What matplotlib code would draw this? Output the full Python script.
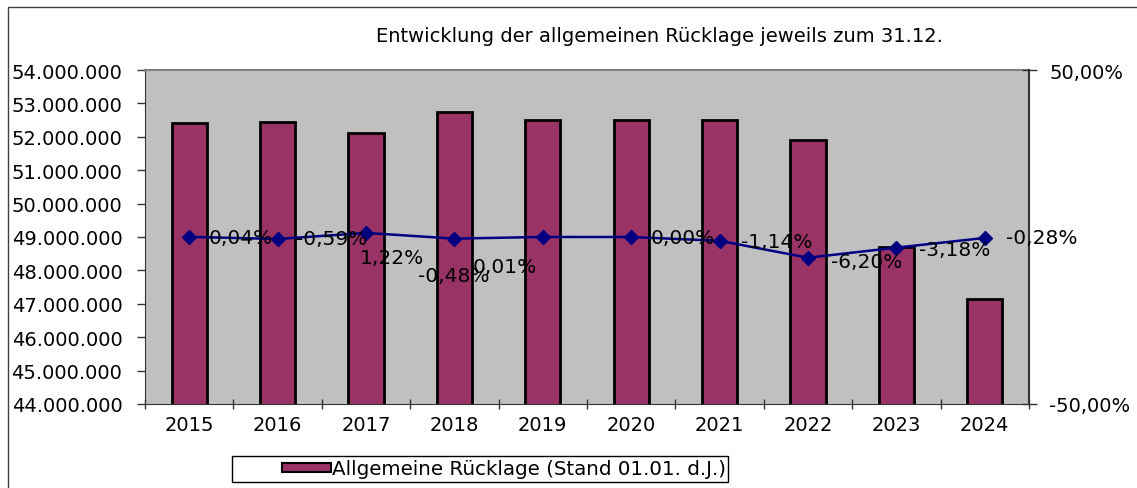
import matplotlib
matplotlib.use("Agg")
import matplotlib.pyplot as plt
from matplotlib.patches import Rectangle
from matplotlib.ticker import FuncFormatter, FixedLocator
import numpy as np

years = ["2015", "2016", "2017", "2018", "2019", "2020", "2021", "2022", "2023", "2024"]
ruecklage = [52.40e6, 52.43e6, 52.11e6, 52.75e6, 52.49e6, 52.49e6, 52.49e6, 51.90e6, 48.69e6, 47.14e6]
veraenderung = [0.04, -0.59, 1.22, -0.48, 0.01, 0.00, -1.14, -6.20, -3.18, -0.28]
pct_labels = ["0,04%", "-0,59%", "1,22%", "-0,48%", "0,01%", "0,00%", "-1,14%", "-6,20%", "-3,18%", "-0,28%"]
title = "Entwicklung der allgemeinen Rücklage jeweils zum 31.12."
legend_label = "Allgemeine Rücklage (Stand 01.01. d.J.)"

# label offsets in pixels (left edge, vertical centre) relative to the marker
label_offsets = [(19, -1), (18, 0), (-6, -25), (-36, -37), (-70, -30),
                 (19, 0), (21, -1), (23, -4), (23, -2), (21, 0)]

W, H = 1137, 489
fig = plt.figure(figsize=(W / 100, H / 100), dpi=100)
fig.patch.set_facecolor("white")

# outer chart border (cropped on the right and bottom)
fig.add_artist(Rectangle((8 / W, -0.05), 1.2, 1 - 8 / H + 0.05, transform=fig.transFigure,
                         fill=False, edgecolor="#404040", linewidth=1.0))

ax = fig.add_axes([145 / W, (H - 405) / H, 884 / W, 334 / H])
ax.set_facecolor("#C0C0C0")
x = np.arange(len(years))
ax.bar(x, ruecklage, width=0.4, color="#993366", edgecolor="black", linewidth=2,
       label=legend_label, zorder=2)
ax.set_xlim(-0.5, len(years) - 0.5)
ax.set_ylim(44e6, 54e6)
ax.set_yticks(np.arange(44e6, 54.1e6, 1e6))
ax.yaxis.set_major_formatter(FuncFormatter(lambda v, p: f"{int(round(v)):,}".replace(",", ".")))
ax.set_xticks(x)
ax.set_xticklabels(years)
ax.xaxis.set_minor_locator(FixedLocator(np.arange(-0.5, len(years), 1.0)))
ax.tick_params(axis="x", which="major", length=0, pad=8, labelsize=14)
ax.tick_params(axis="x", which="minor", length=6.5, direction="inout", width=1, color="#333333")
ax.tick_params(axis="y", length=5.8, direction="out", width=1, color="#333333", labelsize=14, pad=10.5)
ax.spines["top"].set_color("#808080")
ax.spines["top"].set_linewidth(1.5)
ax.spines["left"].set_color("#333333")
ax.spines["bottom"].set_color("#333333")
ax.spines["right"].set_visible(False)

ax2 = ax.twinx()
ax2.set_ylim(-50, 50)
ax2.set_yticks([-50, 50])
ax2.set_yticklabels(["-50,00%", "50,00%"])
ax2.tick_params(axis="y", length=10.8, direction="inout", width=1, color="#333333", labelsize=14, pad=9)
ax2.spines["right"].set_color("#333333")
ax2.spines["right"].set_linewidth(1.5)
for s in ["top", "left", "bottom"]:
    ax2.spines[s].set_visible(False)
ax2.plot(x, veraenderung, color="#000080", linewidth=1.8, marker="D", markersize=7,
         markerfacecolor="#000080", markeredgecolor="#000080", zorder=3)
for xi, yi, lab, (dx, dy) in zip(x, veraenderung, pct_labels, label_offsets):
    ax2.annotate(lab, (xi, yi), xytext=(dx, dy), textcoords="offset pixels",
                 ha="left", va="center", fontsize=14.5, color="black", zorder=4)

fig.text(659 / W, 1 - 37 / H, title, ha="center", va="center", fontsize=14)

# legend box (Excel-style, with extra space on the left)
fig.add_artist(Rectangle((232 / W, 1 - 483 / H), (728 - 232) / W, 26 / H,
                         transform=fig.transFigure, fill=True, facecolor="white",
                         edgecolor="black", linewidth=1.0))
handles, labels = ax.get_legend_handles_labels()
leg = fig.legend(handles, labels, loc="center left", bbox_to_anchor=(268 / W, 1 - 470 / H),
                 fontsize=14.3, frameon=False, handlelength=2.45, handleheight=0.35,
                 handletextpad=0.05, borderpad=0.2)
for h in leg.legend_handles:
    h.set_linewidth(1.5)

fig.savefig("out.png", dpi=100)
